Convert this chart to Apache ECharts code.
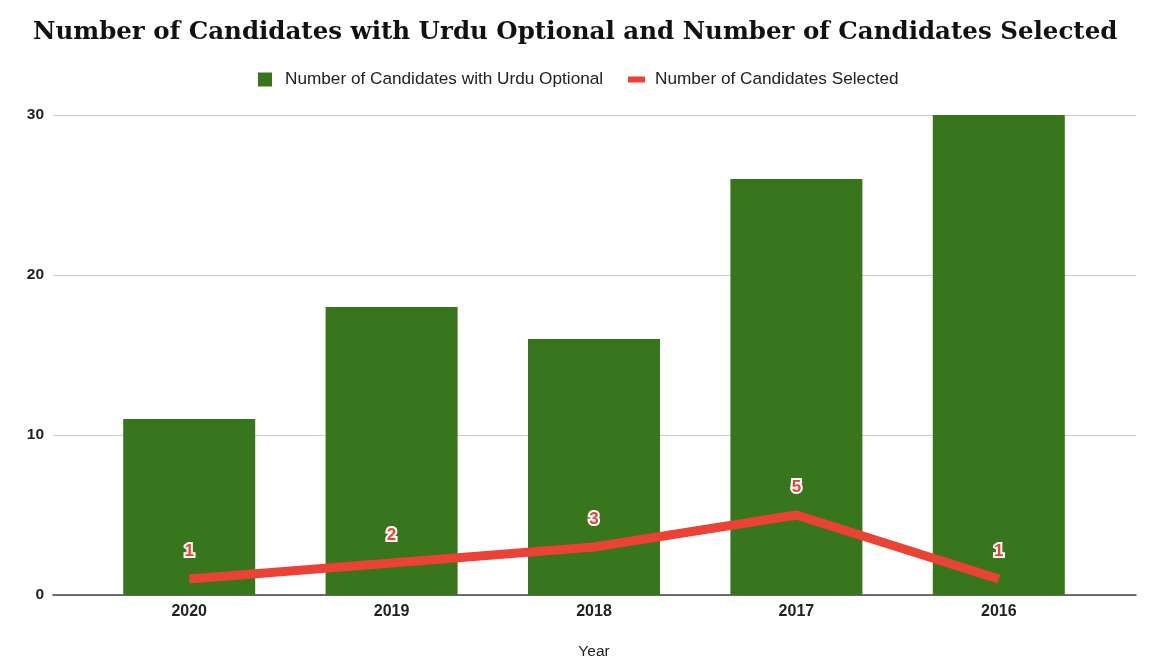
<!DOCTYPE html>
<html>
<head>
<meta charset="utf-8">
<script src="https://cdn.jsdelivr.net/npm/echarts@6/dist/echarts.min.js"></script>
<style>html,body{margin:0;padding:0;background:#fff}#c{width:1172px;height:672px}</style>
</head>
<body>
<div id="c"></div>
<script>
const categories = ['2020', '2019', '2018', '2017', '2016'];
const urduOptional = [11, 18, 16, 26, 30];
const selected = [1, 2, 3, 5, 1];
const yTicks = { min: 0, max: 30, interval: 10 };
const titleText = 'Number of Candidates with Urdu Optional and Number of Candidates Selected';
const seriesNames = ['Number of Candidates with Urdu Optional', 'Number of Candidates Selected'];

const chart = echarts.init(document.getElementById('c'));
const sans = 'Liberation Sans, Arial, sans-serif';
const legendText = { fontFamily: sans, fontSize: 17.2, color: '#222' };
chart.setOption({
  animation: false,
  title: {
    text: titleText, left: 28, top: 15,
    textStyle: { fontFamily: 'DejaVu Serif, serif', fontWeight: 'bold', fontSize: 24.5, color: '#111' }
  },
  legend: [
    { top: 66, left: 253, itemWidth: 14, itemHeight: 14,
      textStyle: Object.assign({ padding: [0, 0, 0, 8] }, legendText),
      data: [{ name: seriesNames[0], icon: 'rect' }] },
    { top: 66, left: 623, itemWidth: 17, itemHeight: 6,
      textStyle: Object.assign({ padding: [0, 0, 0, 5] }, legendText),
      data: [{ name: seriesNames[1], icon: 'rect' }] }
  ],
  grid: [
    { left: 53, right: 36, top: 115, bottom: 77 },
    { left: 88, right: 72, top: 115, bottom: 77 }
  ],
  xAxis: [
    { gridIndex: 0, type: 'category', data: categories, axisLine: { lineStyle: { color: '#444', width: 1.5 } },
      axisTick: { show: false }, axisLabel: { show: false }, splitLine: { show: false } },
    { gridIndex: 1, type: 'category', data: categories, axisLine: { show: false }, axisTick: { show: false },
      axisLabel: { fontFamily: sans, fontWeight: 'bold', fontSize: 16, color: '#222', margin: 9 },
      name: 'Year', nameLocation: 'middle', nameGap: 49,
      nameTextStyle: { fontFamily: sans, fontSize: 15.5, color: '#222' } }
  ],
  yAxis: [
    { gridIndex: 0, type: 'value', min: yTicks.min, max: yTicks.max, interval: yTicks.interval,
      axisLine: { show: false }, axisTick: { show: false },
      axisLabel: { fontFamily: sans, fontWeight: 'bold', fontSize: 15.5, color: '#222', margin: 9,
        lineHeight: 20, verticalAlign: 'middle' },
      splitLine: { lineStyle: { color: '#ccc' } } },
    { gridIndex: 1, type: 'value', min: yTicks.min, max: yTicks.max, interval: yTicks.interval,
      axisLine: { show: false }, axisTick: { show: false }, axisLabel: { show: false }, splitLine: { show: false } }
  ],
  series: [
    { name: seriesNames[0], type: 'bar', xAxisIndex: 1, yAxisIndex: 1, data: urduOptional,
      barWidth: 132, itemStyle: { color: '#38761d' }, z: 2 },
    { name: seriesNames[1], type: 'line', xAxisIndex: 1, yAxisIndex: 1, data: selected,
      symbol: 'circle', symbolSize: 0.5, showSymbol: true,
      lineStyle: { color: '#ea4335', width: 9 }, itemStyle: { color: '#ea4335' }, z: 3,
      label: { show: true, position: 'top', distance: 19, fontFamily: sans, fontWeight: 'bold', fontSize: 17,
        color: '#ea4335', textBorderColor: '#fff', textBorderWidth: 4 } }
  ]
});
</script>
</body>
</html>
